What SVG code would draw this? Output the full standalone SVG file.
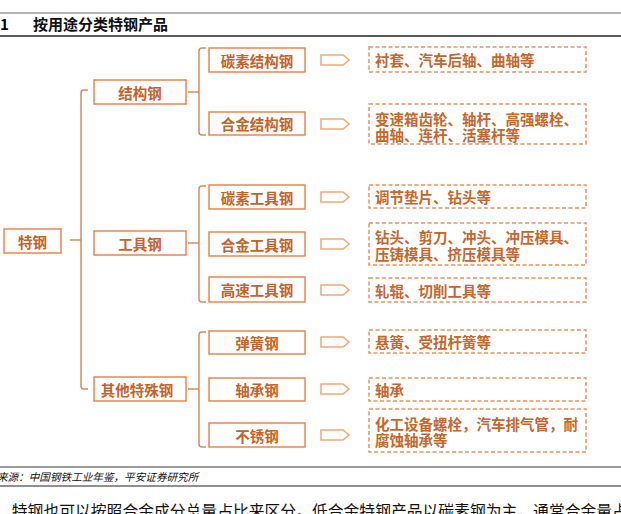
<svg xmlns="http://www.w3.org/2000/svg" width="621" height="514" viewBox="0 0 621 514">
<style>
.t{font-family:"Noto Sans CJK SC","Noto Sans",sans-serif;}
.bx{fill:#fff;stroke:#E8874F;stroke-width:1.5;}
.bt{font-family:"Noto Sans CJK SC",sans-serif;font-size:14.5px;font-weight:bold;fill:#C4622A;text-anchor:middle;dominant-baseline:central;}
.db{fill:#fff;stroke:#E99360;stroke-width:1.5;stroke-dasharray:4 2.5;}
.dt{font-family:"Noto Sans CJK SC",sans-serif;font-size:14.5px;font-weight:bold;fill:#C4662E;dominant-baseline:central;}
.ar{fill:#fff;stroke:#F2A878;stroke-width:1.5;}
.cn{fill:none;stroke:#D98A5C;stroke-width:1.5;}
</style>
<rect width="621" height="514" fill="#fff"/>
<line x1="0" y1="13" x2="621" y2="13" stroke="#9a9a9a" stroke-width="1.5"/>
<text x="0" y="30" class="t" font-size="15" font-weight="bold" fill="#000" font-family="Liberation Sans">1</text>
<text x="33" y="30" class="t" font-size="15" font-weight="bold" fill="#111">按用途分类特钢产品</text>
<line x1="0" y1="36" x2="621" y2="36" stroke="#222" stroke-width="1.5"/>

<g id="connectors">
<path class="cn" d="M70,240 H81"/>
<path class="cn" d="M88,90 H84 Q81,90 81,93 V386 Q81,389 84,389 H88"/>
<path class="cn" d="M188,92 H199"/>
<path class="cn" d="M206,48 H202 Q199,48 199,51 V132 Q199,135 202,135 H206"/>
<path class="cn" d="M188,243 H199"/>
<path class="cn" d="M206,186 H202 Q199,186 199,189 V299 Q199,302 202,302 H206"/>
<path class="cn" d="M188,389 H199"/>
<path class="cn" d="M206,332 H202 Q199,332 199,335 V444 Q199,447 202,447 H206"/>
</g>

<g id="n-tegang"><rect class="bx" x="4" y="229" width="57" height="24"/><text class="bt" x="32.5" y="241">特钢</text></g>
<g id="n-jiegou"><rect class="bx" x="94" y="80" width="92" height="24"/><text class="bt" x="140" y="92">结构钢</text></g>
<g id="n-gongju"><rect class="bx" x="94" y="231" width="92" height="24"/><text class="bt" x="140" y="243">工具钢</text></g>
<g id="n-qita"><rect class="bx" x="94" y="377" width="92" height="24"/><text class="bt" x="137" y="389">其他特殊钢</text></g>

<g id="n-r1"><rect class="bx" x="209" y="48" width="96" height="24"/><text class="bt" x="257" y="60">碳素结构钢</text>
<path class="ar" d="M321,55 H343 L349,60 L343,65 H321 Z"/>
<rect class="db" x="369" y="47" width="217" height="25"/><text class="dt" x="375" y="59.5">衬套、汽车后轴、曲轴等</text></g>

<g id="n-r2"><rect class="bx" x="209" y="112" width="96" height="23"/><text class="bt" x="257" y="123.5">合金结构钢</text>
<path class="ar" d="M321,119 H343 L349,124 L343,129 H321 Z"/>
<rect class="db" x="369" y="104" width="217" height="40"/><text class="dt"><tspan x="375" y="117.5">变速箱齿轮、轴杆、高强螺栓、</tspan><tspan x="375" y="134">曲轴、连杆、活塞杆等</tspan></text></g>

<g id="n-r3"><rect class="bx" x="209" y="185" width="96" height="24"/><text class="bt" x="257" y="197">碳素工具钢</text>
<path class="ar" d="M321,192 H343 L349,197 L343,202 H321 Z"/>
<rect class="db" x="369" y="185" width="217" height="23"/><text class="dt" x="375" y="196.5">调节垫片、钻头等</text></g>

<g id="n-r4"><rect class="bx" x="209" y="232" width="96" height="24"/><text class="bt" x="257" y="244">合金工具钢</text>
<path class="ar" d="M321,239 H343 L349,244 L343,249 H321 Z"/>
<rect class="db" x="369" y="223" width="217" height="42"/><text class="dt"><tspan x="375" y="235.5">钻头、剪刀、冲头、冲压模具、</tspan><tspan x="375" y="252.5">压铸模具、挤压模具等</tspan></text></g>

<g id="n-r5"><rect class="bx" x="209" y="277" width="96" height="25"/><text class="bt" x="257" y="289.5">高速工具钢</text>
<path class="ar" d="M321,285 H343 L349,290 L343,295 H321 Z"/>
<rect class="db" x="369" y="278" width="217" height="24"/><text class="dt" x="375" y="290">轧辊、切削工具等</text></g>

<g id="n-r6"><rect class="bx" x="209" y="331" width="96" height="23"/><text class="bt" x="257" y="342.5">弹簧钢</text>
<path class="ar" d="M321,337 H343 L349,342 L343,347 H321 Z"/>
<rect class="db" x="369" y="330" width="217" height="23"/><text class="dt" x="375" y="341.5">悬簧、受扭杆簧等</text></g>

<g id="n-r7"><rect class="bx" x="209" y="378" width="96" height="23"/><text class="bt" x="257" y="389.5">轴承钢</text>
<path class="ar" d="M321,384 H343 L349,389 L343,394 H321 Z"/>
<rect class="db" x="369" y="378" width="217" height="23"/><text class="dt" x="375" y="389.5">轴承</text></g>

<g id="n-r8"><rect class="bx" x="209" y="423" width="96" height="24"/><text class="bt" x="257" y="435">不锈钢</text>
<path class="ar" d="M321,430 H343 L349,435 L343,440 H321 Z"/>
<rect class="db" x="369" y="409" width="217" height="43"/><text class="dt"><tspan x="375" y="422.5">化工设备螺栓，汽车排气管，耐</tspan><tspan x="375" y="439">腐蚀轴承等</tspan></text></g>

<line x1="0" y1="467" x2="621" y2="467" stroke="#9a9a9a" stroke-width="2"/>
<text x="-3" y="481" class="t" font-size="10.6" font-style="italic" fill="#111">来源：中国钢铁工业年鉴，平安证券研究所</text>
<line x1="0" y1="486" x2="621" y2="486" stroke="#222" stroke-width="1"/>
<text x="-4" y="517" class="t" font-size="15.8" fill="#111">、特钢也可以按照合金成分总量占比来区分。低合金特钢产品以碳素钢为主，通常合金量占比</text>
</svg>
